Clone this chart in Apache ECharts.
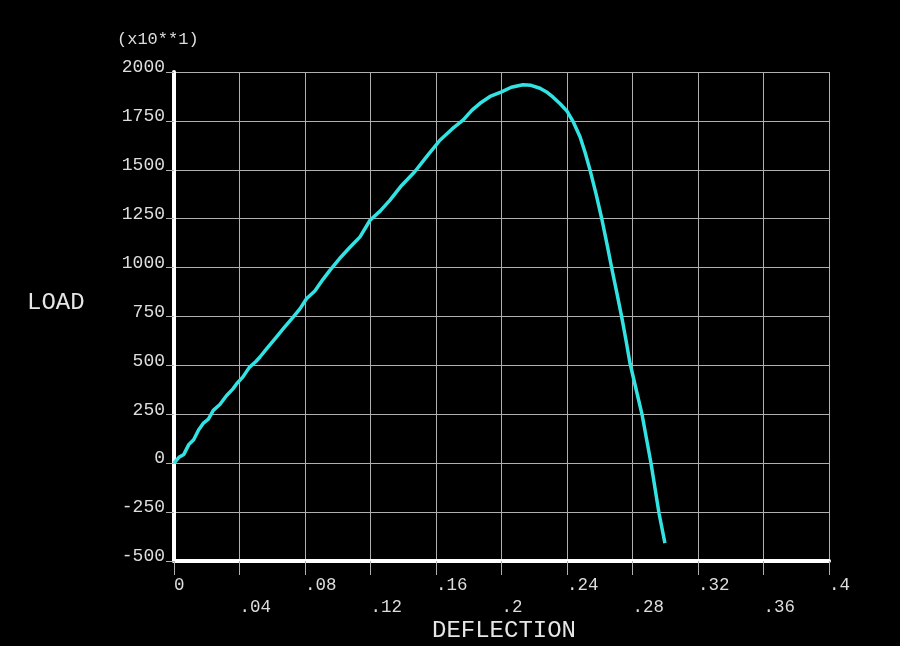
<!DOCTYPE html>
<html>
<head>
<meta charset="utf-8">
<style>
  html, body { margin: 0; padding: 0; background: #000; }
  #chart { width: 900px; height: 646px; }
</style>
<script src="https://cdn.jsdelivr.net/npm/echarts@6/dist/echarts.min.js"></script>
</head>
<body>
<div id="chart"></div>
<script>
// Deflection values (x) and load values (y, in units of x10**1)
const deflection = [
  0.000, 0.003, 0.006, 0.009, 0.012, 0.015, 0.018, 0.021, 0.024, 0.028,
  0.032, 0.036, 0.0385, 0.042, 0.046, 0.050, 0.0525, 0.057, 0.062, 0.067,
  0.0729, 0.077, 0.081, 0.086, 0.091, 0.0953, 0.101, 0.107, 0.1136, 0.1197,
  0.126, 0.1319, 0.139, 0.147, 0.155, 0.1624, 0.170, 0.1765, 0.182, 0.1869,
  0.193, 0.1997, 0.206, 0.2131, 0.218, 0.2235, 0.2275, 0.2315, 0.2358, 0.240,
  0.244, 0.248, 0.251, 0.254, 0.2577, 0.2612, 0.2643, 0.2673, 0.2704, 0.2734,
  0.276, 0.2785, 0.2809, 0.2858, 0.2913, 0.2962, 0.2998
];
const load = [
  0, 30, 45, 95, 120, 170, 205, 225, 270, 300,
  345, 380, 409, 440, 490, 520, 543, 590, 640, 690,
  748, 790, 842, 880, 940, 987, 1045, 1100, 1157, 1242,
  1290, 1345, 1420, 1490, 1575, 1651, 1710, 1754, 1805, 1840,
  1875, 1897, 1922, 1935, 1932, 1917, 1898, 1871, 1838, 1800,
  1742, 1668, 1590, 1501, 1378, 1251, 1125, 998, 872, 748,
  630, 510, 424, 250, 0, -256, -409
];
const xTitle = 'DEFLECTION';
const yTitle = 'LOAD';
const yScaleNote = '(x10**1)';

const points = deflection.map((d, i) => [d, load[i]]);

function fmtX(v) {
  if (Math.abs(v) < 1e-9) return '0';
  return v.toFixed(2).replace(/0+$/, '').replace(/^0/, '');
}

const chart = echarts.init(document.getElementById('chart'));
const monoFont = '"Liberation Mono", "DejaVu Sans Mono", monospace';
chart.setOption({
  backgroundColor: '#000',
  animation: false,
  grid: { left: 174, right: 71, top: 72, bottom: 85, containLabel: false },
  graphic: [
    { type: 'text', left: 117, top: 31,
      style: { text: yScaleNote, fill: '#dddddd', font: '17px ' + monoFont } },
    { type: 'text', left: 27, top: 291,
      style: { text: yTitle, fill: '#e6e6e6', font: '24px ' + monoFont } },
    { type: 'text', left: 432, top: 619,
      style: { text: xTitle, fill: '#e6e6e6', font: '24px ' + monoFont } }
  ],
  xAxis: {
    type: 'value', min: 0, max: 0.4, interval: 0.04,
    axisLine: { show: true, onZero: false, lineStyle: { color: '#ffffff', width: 4 } },
    axisTick: { show: true, length: 14, lineStyle: { color: '#b0b0b0', width: 1 } },
    splitLine: { show: true, lineStyle: { color: '#b0b0b0', width: 1 } },
    axisLabel: {
      color: '#dddddd', fontFamily: monoFont, fontSize: 17.5,
      align: 'left', margin: 13, lineHeight: 22,
      showMinLabel: true, showMaxLabel: true,
      formatter: function (v, i) {
        const s = fmtX(v);
        return (i % 2 === 1) ? '\n' + s : s;
      }
    }
  },
  yAxis: {
    type: 'value', min: -500, max: 2000, interval: 250,
    axisLine: { show: true, onZero: false, lineStyle: { color: '#ffffff', width: 4 } },
    axisTick: { show: true, length: 8, lineStyle: { color: '#b0b0b0', width: 1 } },
    splitLine: { show: true, lineStyle: { color: '#b0b0b0', width: 1 } },
    axisLabel: {
      color: '#dddddd', fontFamily: monoFont, fontSize: 18,
      margin: 9, verticalAlign: 'bottom', lineHeight: 9,
      formatter: function (v) { return String(v); }
    }
  },
  series: [{
    type: 'line',
    data: points,
    showSymbol: false,
    smooth: false,
    lineStyle: { color: '#33e3e3', width: 3.5 },
    z: 5
  }]
});
</script>
</body>
</html>
